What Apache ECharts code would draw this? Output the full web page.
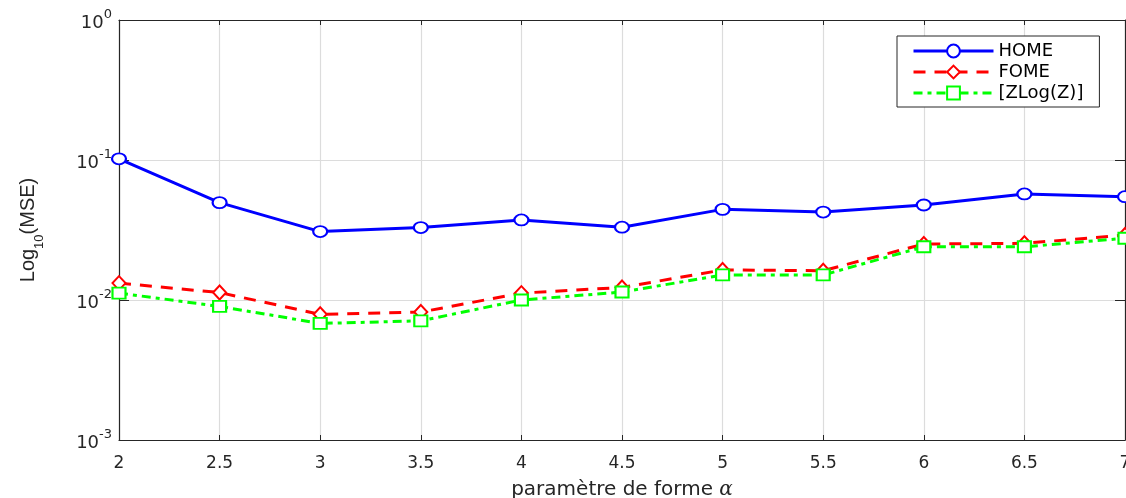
<!DOCTYPE html>
<html>
<head>
<meta charset="utf-8">
<script src="https://cdn.jsdelivr.net/npm/echarts@6/dist/echarts.min.js"></script>
<style>
html,body{margin:0;padding:0;background:#fff;}
#chart{width:1126px;height:498px;}
</style>
</head>
<body>
<div id="chart"></div>
<script>
const alpha = [2, 2.5, 3, 3.5, 4, 4.5, 5, 5.5, 6, 6.5, 7];
const home = [0.102, 0.0496, 0.0308, 0.0329, 0.0373, 0.0331, 0.0444, 0.0425, 0.0477, 0.0572, 0.0547];
const fome = [0.0132, 0.0113, 0.0079, 0.0082, 0.0112, 0.0123, 0.0164, 0.0162, 0.0251, 0.0254, 0.0291];
const zlog = [0.0112, 0.0090, 0.0068, 0.0071, 0.0100, 0.0114, 0.0151, 0.0151, 0.0240, 0.0240, 0.0276];
const seriesNames = ['HOME', 'FOME', '[ZLog(Z)]'];
const xTickLabels = ['2', '2.5', '3', '3.5', '4', '4.5', '5', '5.5', '6', '6.5', '7'];

const pairs = arr => alpha.map((a, i) => [a, arr[i]]);
const font = 'DejaVu Sans, Liberation Sans, Arial, sans-serif';
const fontY = 'Liberation Sans, Arial, Helvetica, sans-serif';
const axisCol = '#262626';

const chart = echarts.init(document.getElementById('chart'));
chart.setOption({
  animation: false,
  backgroundColor: '#fff',
  grid: { left: 119, right: 1, top: 20, bottom: 58, containLabel: false, outerBoundsMode: 'none' },
  legend: {
    left: 897, top: 36,
    orient: 'vertical',
    backgroundColor: '#fff',
    borderColor: '#262626',
    borderWidth: 1,
    padding: [6, 16, 5, 15],
    itemGap: 3,
    itemWidth: 80,
    itemHeight: 16,
    textStyle: { fontFamily: font, fontSize: 18, color: '#000' },
    lineStyle: { width: 3 },
    data: seriesNames
  },
  xAxis: [{
    type: 'value', min: 2, max: 7, interval: 0.5,
    axisLine: { show: true, onZero: false, lineStyle: { color: axisCol, width: 1.2 } },
    axisTick: { show: true, inside: true, length: 5, lineStyle: { color: axisCol } },
    axisLabel: { fontFamily: font, fontSize: 17, color: axisCol, margin: 15,
      formatter: (v) => { const i = alpha.indexOf(v); return i >= 0 ? xTickLabels[i] : ''; } },
    splitLine: { show: true, lineStyle: { color: '#dcdcdc', width: 1.2 } },
    name: '{t|paramètre de forme }{a|α}',
    nameLocation: 'middle', nameGap: 40,
    nameTextStyle: { rich: {
      t: { fontFamily: font, fontSize: 20, color: axisCol },
      a: { fontFamily: 'DejaVu Serif, serif', fontStyle: 'italic', fontSize: 20, color: axisCol }
    } }
  }, {
    type: 'value', min: 2, max: 7, interval: 0.5, position: 'top',
    axisLine: { show: true, lineStyle: { color: axisCol, width: 1.2 } },
    axisTick: { show: true, inside: true, length: 5, lineStyle: { color: axisCol } },
    axisLabel: { show: false }, splitLine: { show: false }
  }],
  yAxis: [{
    type: 'log', logBase: 10, min: 0.001, max: 1,
    axisLine: { show: true, lineStyle: { color: axisCol, width: 1.2 } },
    axisTick: { show: true, inside: true, length: 10, lineStyle: { color: axisCol } },
    minorTick: { show: false },
    splitLine: { show: true, lineStyle: { color: '#dcdcdc', width: 1.2 } },
    axisLabel: {
      margin: 7,
      formatter: (v) => '{b|10}{s|' + Math.round(Math.log10(v)) + '}',
      rich: {
        b: { fontFamily: font, fontSize: 18, color: axisCol, lineHeight: 24, verticalAlign: 'bottom' },
        s: { fontFamily: font, fontSize: 13, color: axisCol, lineHeight: 24, verticalAlign: 'top' }
      }
    },
    name: '{b|Log}{s|10}{b|(MSE)}',
    nameLocation: 'middle', nameRotate: 90, nameGap: 73,
    nameTextStyle: { rich: {
      b: { fontFamily: fontY, fontSize: 20, color: axisCol, lineHeight: 28, verticalAlign: 'top' },
      s: { fontFamily: fontY, fontSize: 13, color: axisCol, lineHeight: 28, verticalAlign: 'bottom' }
    } }
  }, {
    type: 'log', logBase: 10, min: 0.001, max: 1, position: 'right',
    axisLine: { show: true, lineStyle: { color: axisCol, width: 1.2 } },
    axisTick: { show: true, inside: true, length: 10, lineStyle: { color: axisCol } },
    axisLabel: { show: false }, splitLine: { show: false }
  }],
  series: [{
    name: seriesNames[0], type: 'line', data: pairs(home),
    symbol: 'emptyCircle', symbolSize: [14, 11],
    lineStyle: { color: '#0000ff', width: 3 },
    itemStyle: { color: '#0000ff', borderColor: '#0000ff', borderWidth: 3 },
    z: 3
  }, {
    name: seriesNames[1], type: 'line', data: pairs(fome),
    symbol: 'emptyDiamond', symbolSize: [13, 14],
    lineStyle: { color: '#ff0000', width: 3, type: [12, 9] },
    itemStyle: { color: '#ff0000', borderColor: '#ff0000', borderWidth: 3 },
    z: 2
  }, {
    name: seriesNames[2], type: 'line', data: pairs(zlog),
    symbol: 'emptyRect', symbolSize: [13, 11],
    lineStyle: { color: '#00ff00', width: 3, type: [9, 5, 4, 5] },
    itemStyle: { color: '#00ff00', borderColor: '#00ff00', borderWidth: 3 },
    z: 4
  }]
});
</script>
</body>
</html>
